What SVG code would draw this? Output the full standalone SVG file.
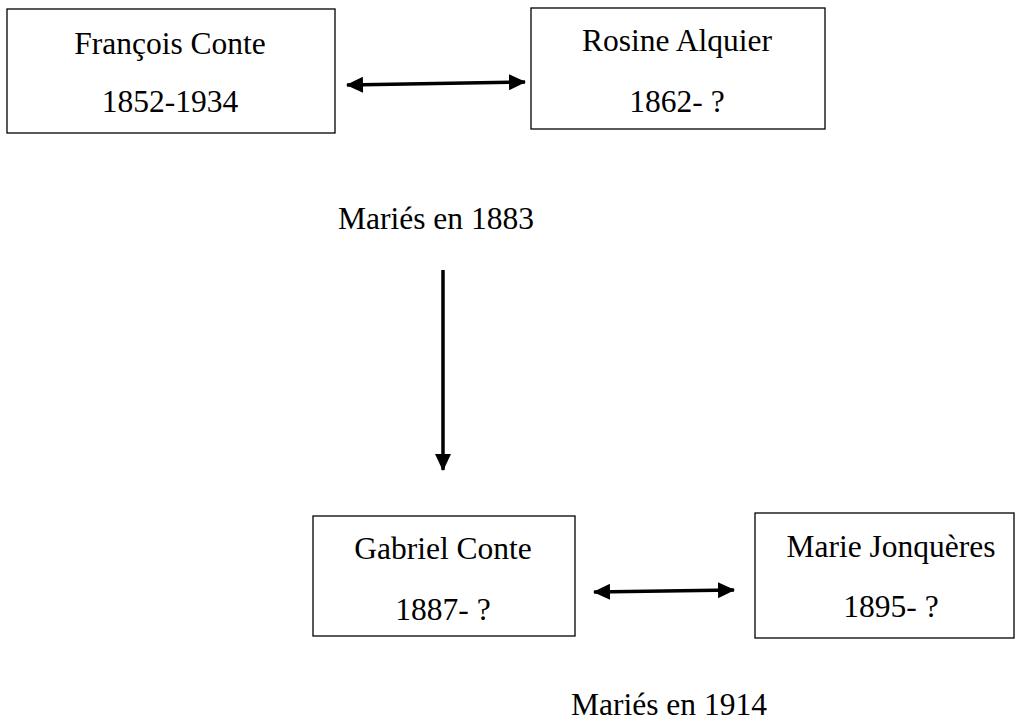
<svg xmlns="http://www.w3.org/2000/svg" width="1016" height="724" viewBox="0 0 1016 724">
<style>
.box{fill:#fff;stroke:#000;stroke-width:1.3}
.t{font-family:"Liberation Serif","Times New Roman",serif;font-size:31.5px;fill:#000;text-anchor:middle}
.c{stroke:#000;stroke-width:3.5;fill:none}
</style>
<defs>
<marker id="ah" markerUnits="userSpaceOnUse" markerWidth="18" markerHeight="16" refX="16" refY="8" orient="auto-start-reverse">
<path d="M0,0 L17,8 L0,16 Z" fill="#000"/>
</marker>
</defs>
<rect width="1016" height="724" fill="#fff"/>
<g id="francois">
<rect class="box" x="7" y="9" width="328" height="124"/>
<text class="t" x="170" y="54">François Conte</text>
<text class="t" x="170" y="112">1852-1934</text>
</g>
<g id="rosine">
<rect class="box" x="531" y="8" width="294" height="121"/>
<text class="t" x="677" y="51">Rosine Alquier</text>
<text class="t" x="677" y="112">1862- ?</text>
</g>
<g id="gabriel">
<rect class="box" x="313" y="516" width="262" height="120"/>
<text class="t" x="443" y="559">Gabriel Conte</text>
<text class="t" x="443" y="620">1887- ?</text>
</g>
<g id="marie">
<rect class="box" x="755" y="513" width="259" height="125"/>
<text class="t" x="891" y="557">Marie Jonquères</text>
<text class="t" x="891" y="617">1895- ?</text>
</g>
<g id="labels">
<text class="t" x="436" y="229">Mariés en 1883</text>
<text class="t" x="669" y="715">Mariés en 1914</text>
</g>
<g id="connectors">
<line class="c" x1="347" y1="85" x2="525" y2="82" marker-start="url(#ah)" marker-end="url(#ah)"/>
<line class="c" x1="443" y1="270" x2="443" y2="470" marker-end="url(#ah)"/>
<line class="c" x1="594" y1="592" x2="734" y2="590" marker-start="url(#ah)" marker-end="url(#ah)"/>
</g>
</svg>
